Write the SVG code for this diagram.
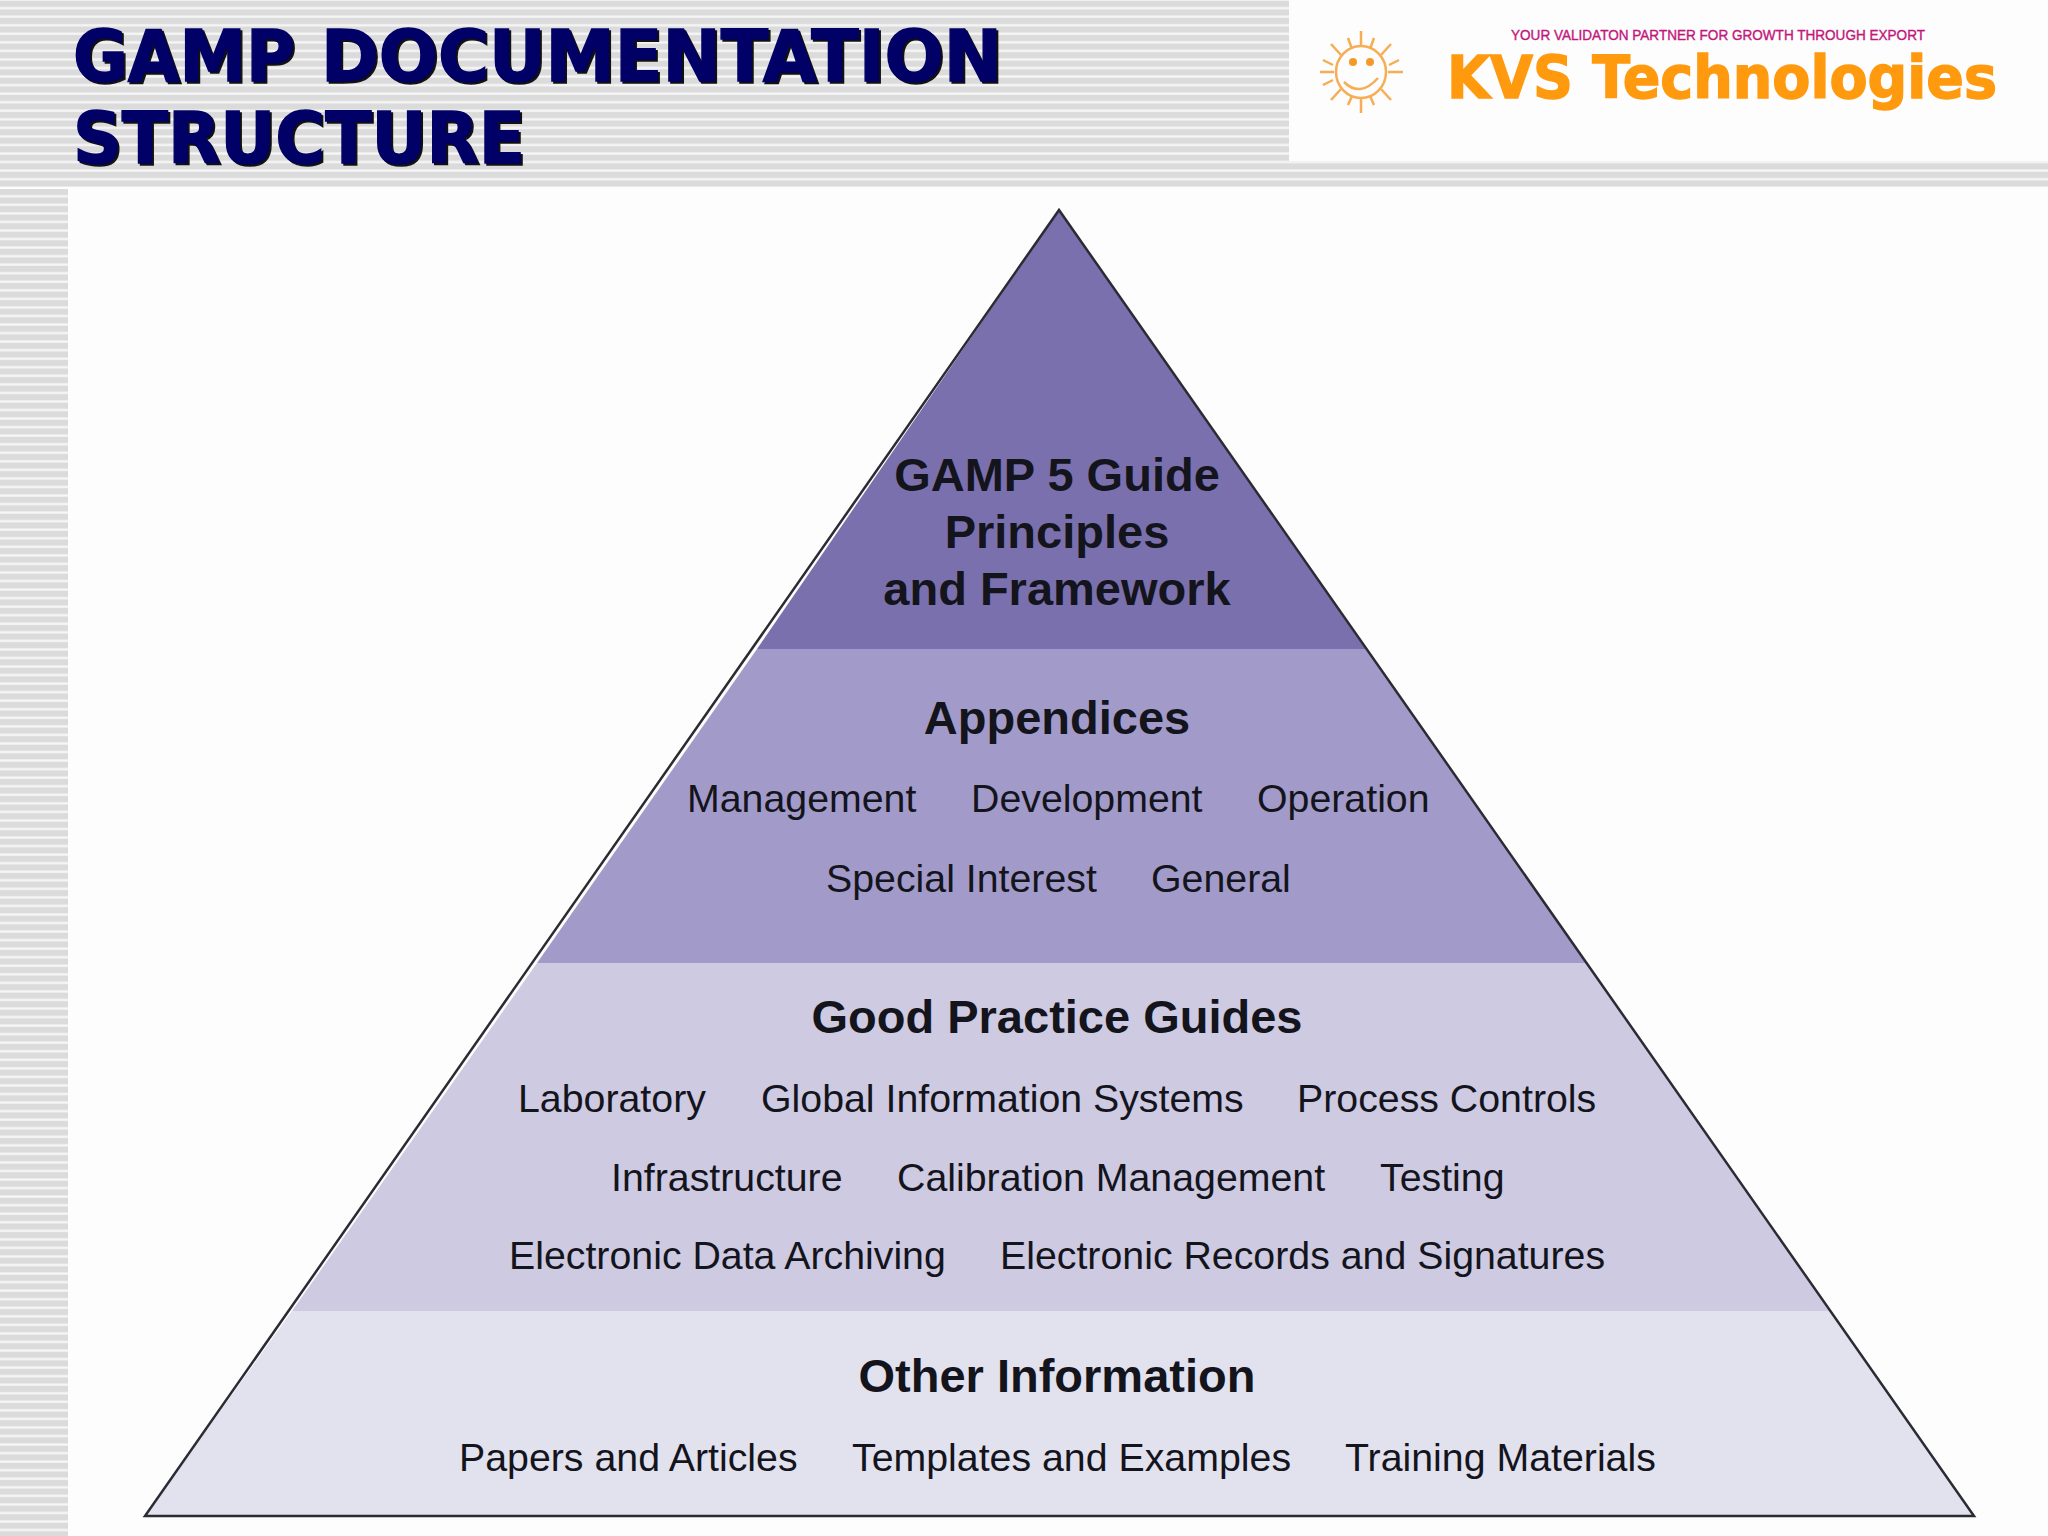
<svg xmlns="http://www.w3.org/2000/svg" width="2048" height="1536" viewBox="0 0 2048 1536">
<defs>
<pattern id="stripes" patternUnits="userSpaceOnUse" x="0" y="0" width="16" height="8.55">
<rect width="16" height="8.55" fill="#f6f6f6"/><rect y="0.8" width="16" height="6.2" fill="#dbdbdb"/>
</pattern>
</defs>
<style>
text{font-family:"Liberation Sans",Arial,sans-serif;fill:#14141c}
.h{font-size:47px;font-weight:bold;text-anchor:middle}
.i{font-size:39.3px}
.t{font-family:"DejaVu Sans",Verdana,sans-serif;font-weight:bold;font-size:72px;stroke-width:1.5}
.sun{stroke:#f59a2a;fill:none;stroke-width:2.5;opacity:.8}
</style>
<rect width="2048" height="1536" fill="#fdfdfe"/>
<g id="background">
<rect x="0" y="0" width="1289" height="187" fill="url(#stripes)"/>
<rect x="1289" y="161" width="759" height="26" fill="url(#stripes)"/>
<rect x="0" y="189" width="68" height="1347" fill="url(#stripes)"/>
</g>
<g id="title">
<text class="t" y="83" style="fill:#111;stroke:#111"><tspan x="75" textLength="222" lengthAdjust="spacingAndGlyphs">GAMP</tspan><tspan x="323" textLength="681" lengthAdjust="spacingAndGlyphs">DOCUMENTATION</tspan></text>
<text class="t" x="75" y="165" textLength="452" lengthAdjust="spacingAndGlyphs" style="fill:#111;stroke:#111">STRUCTURE</text>
<text class="t" y="81" style="fill:#000066;stroke:#000066"><tspan x="73" textLength="222" lengthAdjust="spacingAndGlyphs">GAMP</tspan><tspan x="321" textLength="681" lengthAdjust="spacingAndGlyphs">DOCUMENTATION</tspan></text>
<text class="t" x="73" y="163" textLength="452" lengthAdjust="spacingAndGlyphs" style="fill:#000066;stroke:#000066">STRUCTURE</text>
</g>
<g id="logo">
<g class="sun">
<ellipse cx="1361" cy="72" rx="25" ry="26"/>
<path d="M1361 31V46M1361 98V113M1320 72H1334M1388 72H1403M1331 44L1341 55M1391 44L1381 55M1331 100L1341 89M1391 100L1381 89M1323 60L1333 65M1399 60L1389 65M1323 85L1333 80M1348 38L1352 49M1374 38L1370 49M1348 105L1352 96M1374 105L1370 96"/>
<path d="M1344 82Q1360 98 1378 78"/>
</g>
<circle cx="1353" cy="62" r="4" fill="#f59a2a"/><circle cx="1370" cy="62" r="4" fill="#f59a2a"/>
<text x="1511" y="40" style="font-size:15px;fill:#c2177a;stroke:#c2177a;stroke-width:.4" textLength="414" lengthAdjust="spacingAndGlyphs">YOUR VALIDATON PARTNER FOR GROWTH THROUGH EXPORT</text>
<text x="1447" y="98" style="font-family:'DejaVu Sans',sans-serif;font-weight:bold;font-size:58px;fill:#ff9a0f;stroke:#ff9a0f;stroke-width:1.5" textLength="550" lengthAdjust="spacingAndGlyphs">KVS Technologies</text>
</g>
<g id="tier-gamp5">
<polygon points="1059,210 757,649 1366,649" fill="#7b70ae"/>
<text class="h" x="1057" y="491">GAMP 5 Guide</text>
<text class="h" x="1057" y="548">Principles</text>
<text class="h" x="1057" y="605">and Framework</text>
</g>
<g id="tier-appendices">
<polygon points="757,649 1366,649 1586,963 537,963" fill="#a29bc9"/>
<text class="h" x="1057" y="734">Appendices</text>
<text class="i" x="687" y="812">Management</text>
<text class="i" x="971" y="812">Development</text>
<text class="i" x="1257" y="812">Operation</text>
<text class="i" x="826" y="892">Special Interest</text>
<text class="i" x="1151" y="892">General</text>
</g>
<g id="tier-guides">
<polygon points="537,963 1586,963 1829,1311 292,1311" fill="#cdcae2"/>
<text class="h" x="1057" y="1033">Good Practice Guides</text>
<text class="i" x="518" y="1112">Laboratory</text>
<text class="i" x="761" y="1112">Global Information Systems</text>
<text class="i" x="1297" y="1112">Process Controls</text>
<text class="i" x="611" y="1191">Infrastructure</text>
<text class="i" x="897" y="1191">Calibration Management</text>
<text class="i" x="1380" y="1191">Testing</text>
<text class="i" x="509" y="1269">Electronic Data Archiving</text>
<text class="i" x="1000" y="1269">Electronic Records and Signatures</text>
</g>
<g id="tier-other">
<polygon points="292,1311 1829,1311 1974,1516 145,1516" fill="#e2e1ee"/>
<text class="h" x="1057" y="1392">Other Information</text>
<text class="i" x="459" y="1471">Papers and Articles</text>
<text class="i" x="852" y="1471">Templates and Examples</text>
<text class="i" x="1345" y="1471">Training Materials</text>
</g>
<g id="connectors">
<polygon points="1059,210 145,1516 1974,1516" fill="none" stroke="#2b2b33" stroke-width="2.5"/>
</g>
</svg>
